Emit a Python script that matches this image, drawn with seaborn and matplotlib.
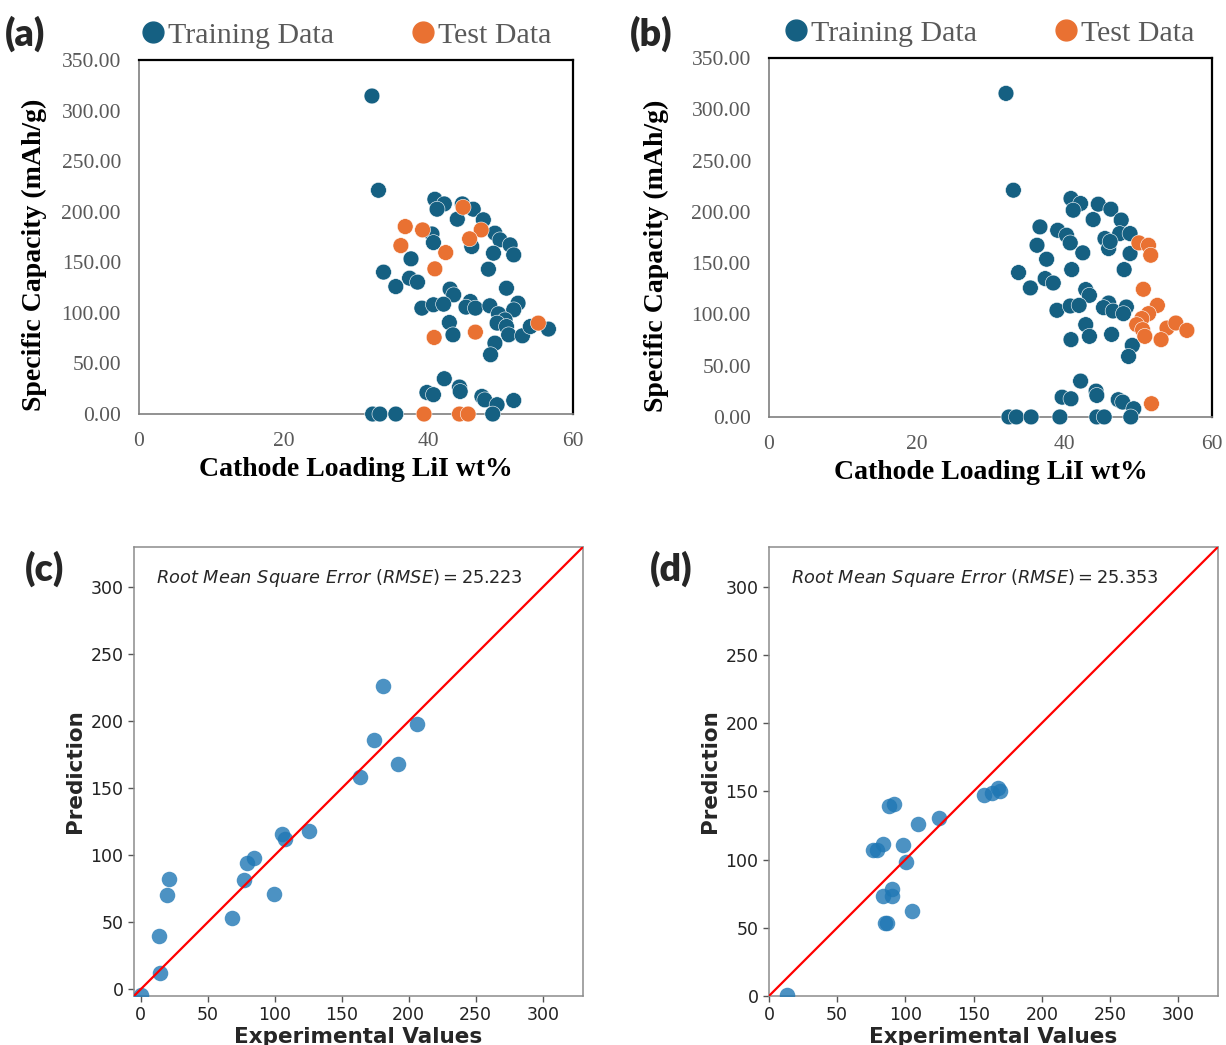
import numpy as np
import pandas as pd
import matplotlib
matplotlib.use("Agg")
import matplotlib.pyplot as plt
import seaborn as sns
from matplotlib.lines import Line2D

# ---- data ----
# (a) split 1
a_train_x = [32.2, 33.1, 40.9, 42.2, 41.2, 44.7, 46.2, 44.0, 47.6, 40.5, 40.7, 46.0, 49.2, 49.9,
             49.0, 51.3, 51.8, 48.3, 37.6, 33.8, 37.4, 38.5, 35.5, 50.8, 43.0, 43.5, 39.1, 40.7,
             42.1, 45.8, 45.2, 46.5, 48.5, 52.4, 51.8, 49.7, 50.6, 49.5, 50.8, 42.9, 43.4, 51.1,
             53.0, 54.1, 56.6, 49.2, 48.6, 42.2, 39.8, 40.7, 44.3, 44.4, 47.4, 47.8, 49.5, 51.8,
             32.3, 33.3, 35.5, 48.9]
a_train_y = [314.4, 221.2, 212.3, 207.7, 202.5, 207.7, 202.5, 192.6, 192.0, 178.0, 169.5, 165.6,
             178.8, 172.2, 159.0, 167.2, 157.3, 143.2, 153.4, 140.3, 134.3, 130.4, 126.0, 124.4,
             123.5, 117.8, 104.7, 108.0, 108.6, 111.2, 105.7, 104.7, 107.0, 109.6, 103.0, 99.0,
             93.1, 89.9, 86.5, 90.5, 78.3, 78.3, 77.3, 86.5, 84.0, 70.1, 58.6, 34.9, 21.3, 19.1,
             26.7, 22.3, 17.4, 14.0, 9.2, 13.4, 0.0, 0.0, 0.0, 0.0]
a_test_x = [44.8, 36.8, 39.2, 47.3, 45.7, 36.2, 42.4, 40.9, 55.2, 46.5, 40.8, 39.4, 44.3, 45.5]
a_test_y = [204.4, 185.3, 182.0, 182.0, 173.2, 166.5, 159.6, 143.5, 89.9, 81.0, 75.7, 0.0, 0.0, 0.0]

# (b) split 2
b_train_x = [32.1, 33.1, 40.9, 42.2, 41.2, 44.6, 46.3, 43.9, 47.7, 36.7, 39.1, 40.3, 40.8, 36.3,
             45.5, 46.0, 47.5, 48.9, 46.2, 48.9, 42.5, 37.6, 48.1, 41.0, 33.8, 37.4, 38.5, 35.4,
             42.9, 43.4, 39.0, 40.8, 42.0, 46.0, 45.3, 46.6, 48.4, 48.0, 42.9, 43.4, 40.9, 46.4,
             49.2, 48.7, 42.2, 39.7, 40.9, 44.3, 44.4, 47.3, 47.9, 49.4, 32.5, 33.5, 35.5, 39.4,
             44.4, 45.4, 49.0]
b_train_y = [315.5, 221.1, 213.0, 208.1, 201.6, 207.5, 202.6, 192.5, 192.0, 185.3, 182.0, 177.2,
             169.7, 167.4, 174.0, 164.2, 178.8, 178.8, 171.0, 159.3, 160.0, 153.8, 143.7, 143.7,
             140.8, 134.9, 130.6, 125.8, 124.2, 118.6, 104.0, 108.2, 108.8, 111.1, 106.6, 103.3,
             107.2, 100.7, 90.0, 78.6, 75.4, 80.5, 69.8, 59.0, 35.0, 19.3, 17.7, 25.2, 21.0, 16.8,
             14.5, 8.0, 0.0, 0.0, 0.0, 0.0, 0.0, 0.0, 0.0]
b_test_x = [50.1, 51.4, 51.7, 50.7, 52.6, 51.4, 50.5, 49.8, 50.6, 50.9, 53.9, 55.1, 56.6, 53.1, 51.8]
b_test_y = [169.7, 167.4, 157.7, 124.5, 108.8, 100.7, 95.9, 90.0, 85.1, 78.6, 86.7, 91.6, 84.4,
            75.4, 12.9]

# (c) parity, split 1
c_exp = [0.5, 14.7, 13.4, 19.6, 20.9, 68.4, 77.1, 79.6, 84.3, 99.5, 105.5, 108.0, 125.9, 163.7,
         173.9, 180.8, 191.8, 206.2]
c_pred = [-4.0, 12.4, 39.8, 70.4, 82.0, 53.0, 81.6, 94.5, 98.3, 70.9, 115.7, 112.0, 117.9, 158.7,
          185.8, 225.9, 168.1, 198.0]
c_rmse = 25.223

# (d) parity, split 2
d_exp = [13.2, 76.4, 79.3, 83.8, 88.2, 91.8, 109.5, 124.7, 98.5, 100.2, 90.4, 83.8, 89.9, 85.0,
         86.7, 105.1, 157.7, 163.4, 167.5, 169.0]
d_pred = [0.5, 106.9, 106.9, 111.0, 139.2, 141.0, 125.7, 130.1, 110.5, 98.0, 78.7, 73.5, 73.5,
          53.4, 53.4, 62.5, 147.3, 149.0, 152.7, 149.9]
d_rmse = 25.353

TRAIN_C = "#156082"
TEST_C = "#E97132"
SERIF = "Liberation Serif"

sns.set_style("white")
plt.rcParams["font.family"] = ["DejaVu Sans"]

fig = plt.figure(figsize=(12.26, 10.45), dpi=100)
ax_a = fig.add_axes([0.1134, 0.6038, 0.354, 0.3388])
ax_b = fig.add_axes([0.6272, 0.6010, 0.3614, 0.3435])
ax_c = fig.add_axes([0.1093, 0.0469, 0.3662, 0.4297])
ax_d = fig.add_axes([0.6272, 0.0469, 0.3662, 0.4297])


def split_panel(ax, tx, ty, sx, sy, ylab_x, leg_x):
    df = pd.DataFrame({
        "x": tx + sx,
        "y": ty + sy,
        "set": ["Training Data"] * len(tx) + ["Test Data"] * len(sx),
    })
    sns.scatterplot(data=df, x="x", y="y", hue="set", ax=ax,
                    palette={"Training Data": TRAIN_C, "Test Data": TEST_C},
                    s=130, edgecolor="white", linewidth=0.4, legend=False, clip_on=False,
                    zorder=3)
    ax.set_xlim(0, 60)
    ax.set_ylim(0, 350)
    ax.set_xticks([0, 20, 40, 60])
    ax.set_yticks(np.arange(0, 351, 50))
    ax.set_yticklabels([f"{v:.2f}" for v in np.arange(0, 351, 50)])
    ax.tick_params(length=0, labelsize=15.5, labelcolor="#595959", pad=13)
    for lab in ax.get_xticklabels() + ax.get_yticklabels():
        lab.set_fontfamily(SERIF)
    ax.set_xlabel("Cathode Loading LiI wt%", fontfamily=SERIF, fontsize=20,
                  fontweight="bold", labelpad=4, color="black")
    ax.set_ylabel("Specific Capacity (mAh/g)", fontfamily=SERIF, fontsize=20,
                  fontweight="bold", color="black")
    ax.yaxis.set_label_coords(ylab_x, 0.45)
    for side in ["top", "right"]:
        ax.spines[side].set_color("black")
        ax.spines[side].set_linewidth(1.6)
    for side in ["left", "bottom"]:
        ax.spines[side].set_color("#7f7f7f")
        ax.spines[side].set_linewidth(1.2)
    handles = [Line2D([], [], ls="", marker="o", ms=15, color=TRAIN_C),
               Line2D([], [], ls="", marker="o", ms=15, color=TEST_C)]
    ax.legend(handles, ["Training Data", "Test Data"], ncol=2, frameon=False,
              loc="lower left", bbox_to_anchor=(leg_x, 0.99), borderaxespad=0.1,
              handlelength=0.8, handletextpad=0.1, columnspacing=2.6,
              labelcolor="#595959", prop={"family": SERIF, "size": 21.5})


def parity_panel(ax, exp, pred, rmse, lo, hi):
    sns.scatterplot(x=exp, y=pred, ax=ax, color="#1f77b4", alpha=0.8, s=125,
                    linewidth=0, zorder=3)
    ax.plot([lo, hi], [lo, hi], color="red", lw=1.6, zorder=4)
    ax.set_xlim(lo, hi)
    ax.set_ylim(lo, hi)
    ax.set_xticks(np.arange(0, 301, 50))
    ax.set_yticks(np.arange(0, 301, 50))
    ax.tick_params(length=4, width=1, color="#555555", labelsize=12.5,
                   labelcolor="#222222", bottom=True, left=True)
    ax.set_xlabel("Experimental Values", fontsize=15.5, fontweight="bold", labelpad=2)
    ax.set_ylabel("Prediction", fontsize=15.5, fontweight="bold", labelpad=4)
    for sp in ax.spines.values():
        sp.set_color("#8c8c8c")
        sp.set_linewidth(1.1)
    ax.text(0.05, 0.93, rf"$Root\ Mean\ Square\ Error\ (RMSE) = {rmse:.3f}$",
            transform=ax.transAxes, ha="left", va="center", fontsize=12.8)


split_panel(ax_a, a_train_x, a_train_y, a_test_x, a_test_y, -0.212, -0.03)
split_panel(ax_b, b_train_x, b_train_y, b_test_x, b_test_y, -0.225, 0.0)
parity_panel(ax_c, c_exp, c_pred, c_rmse, -5, 330)
parity_panel(ax_d, d_exp, d_pred, d_rmse, 0, 329)

for lab, x, y in [("(a)", 0.004, 0.968), ("(b)", 0.514, 0.968),
                  ("(c)", 0.020, 0.456), ("(d)", 0.530, 0.456)]:
    fig.text(x, y, lab, fontsize=27, fontweight="heavy", fontfamily="Lato",
             ha="left", va="center")

fig.savefig("out.png", dpi=100)
